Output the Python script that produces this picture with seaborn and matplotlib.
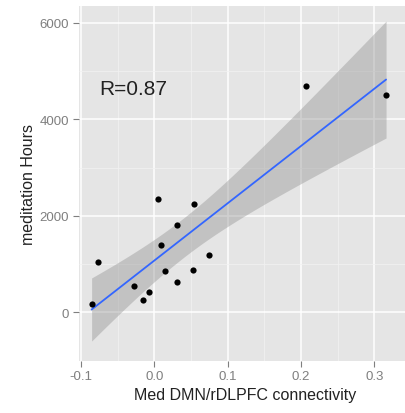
import numpy as np
import pandas as pd
import matplotlib
matplotlib.use("Agg")
import matplotlib.pyplot as plt
import seaborn as sns

# Data
connectivity = [-0.0858, -0.077, -0.0286, -0.0163, -0.0079, 0.0044, 0.0092, 0.014,
                0.0307, 0.0307, 0.053, 0.0545, 0.0739, 0.207, 0.316]
hours = [169, 1053, 557, 257, 420, 2339, 1400, 863,
         1802, 633, 878, 2245, 1190, 4694, 4510]
x_ticks = [-0.1, 0.0, 0.1, 0.2, 0.3]
x_tick_labels = ["-0.1", "0.0", "0.1", "0.2", "0.3"]
y_ticks = [0, 2000, 4000, 6000]
y_tick_labels = ["0", "2000", "4000", "6000"]
y_minor = [-1000, 1000, 3000, 5000]
x_minor = [-0.05, 0.05, 0.15, 0.25, 0.35]
annotation = "R=0.87"
x_label = "Med DMN/rDLPFC connectivity"
y_label = "meditation Hours"

df = pd.DataFrame({"conn": connectivity, "hours": hours})

sns.set_style("white")
plt.rcParams["font.family"] = ["Liberation Sans", "DejaVu Sans"]

W, H = 406, 414
fig = plt.figure(figsize=(W / 100, H / 100), dpi=100)
left, right, top, bottom = 79, 411, 7, 361.7
ax = fig.add_axes([left / W, 1 - bottom / H, (right - left) / W, (bottom - top) / H])
ax.set_facecolor("#E5E5E5")

# analytic 95% confidence band for the linear fit (as ggplot's geom_smooth(method="lm"))
x = np.asarray(connectivity, float)
y = np.asarray(hours, float)
n = len(x)
slope, intercept = np.polyfit(x, y, 1)
resid = y - (slope * x + intercept)
s = np.sqrt(np.sum(resid ** 2) / (n - 2))
xg = np.linspace(x.min(), x.max(), 200)
se = s * np.sqrt(1 / n + (xg - x.mean()) ** 2 / np.sum((x - x.mean()) ** 2))
tval = 2.1604  # t(0.975, 13)
yfit = slope * xg + intercept
ax.fill_between(xg, yfit - tval * se, yfit + tval * se, color="#999999", alpha=0.45,
                lw=0, zorder=2)

sns.regplot(data=df, x="conn", y="hours", ax=ax, ci=None,
            scatter_kws=dict(color="black", s=20, linewidths=0, zorder=4, alpha=1),
            line_kws=dict(color="#3366FF", lw=1.3, zorder=3),
            truncate=True)

ax.set_xlim(-0.103, 0.336)
ax.set_ylim(-885, 6347)
ax.set_xticks(x_ticks)
ax.set_xticklabels(x_tick_labels)
ax.set_yticks(y_ticks)
ax.set_yticklabels(y_tick_labels)
ax.set_xticks(x_minor, minor=True)
ax.set_yticks(y_minor, minor=True)
ax.grid(True, which="major", color="white", lw=1.1, zorder=0)
ax.grid(True, which="minor", color="#F2F2F2", lw=0.5, zorder=0)
ax.set_axisbelow(True)
ax.tick_params(which="major", direction="out", length=4, width=0.8, color="#7F7F7F",
               labelcolor="#7F7F7F", labelsize=9.5, pad=3, left=True, bottom=True)
ax.tick_params(which="minor", length=0)
for sp in ax.spines.values():
    sp.set_visible(False)

ax.set_xlabel(x_label, fontsize=11.5, color="#222222", labelpad=3)
ax.set_ylabel(y_label, fontsize=11.5, color="#222222", labelpad=3)
ax.text(-0.0757, 4640, annotation, fontsize=15, color="#222222", ha="left", va="center")

fig.savefig("out.png", dpi=100)
